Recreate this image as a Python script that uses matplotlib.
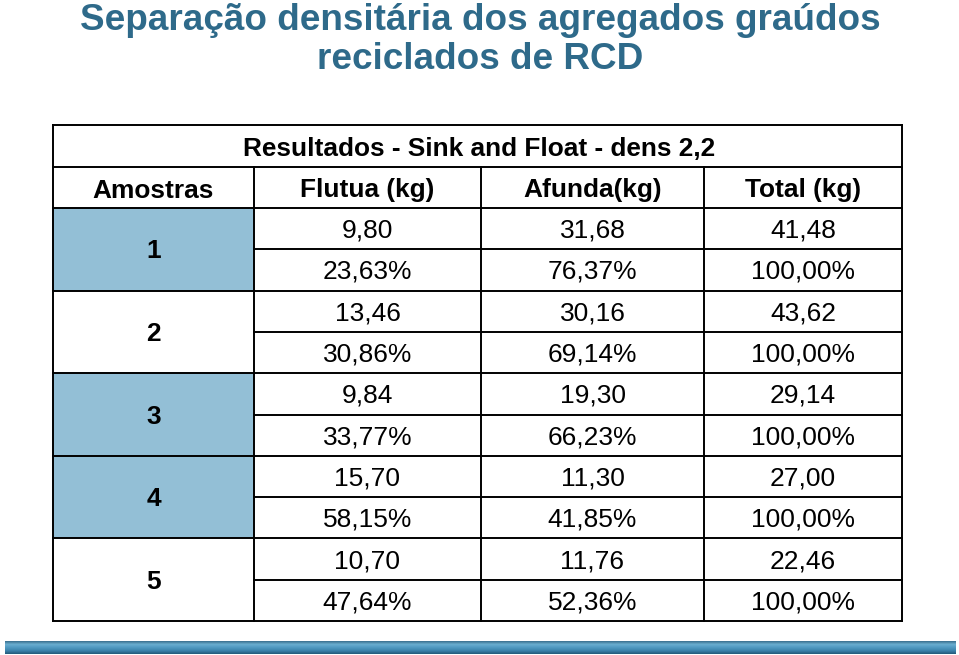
import matplotlib
matplotlib.use("Agg")
import matplotlib.pyplot as plt
import numpy as np
from matplotlib.colors import LinearSegmentedColormap
from matplotlib.patches import Rectangle

plt.rcParams['font.family'] = ['Liberation Sans', 'DejaVu Sans']

# table data
amostras = ['1', '2', '3', '4', '5']
flutua = [9.80, 13.46, 9.84, 15.70, 10.70]
afunda = [31.68, 30.16, 19.30, 11.30, 11.76]
total = [41.48, 43.62, 29.14, 27.00, 22.46]
flutua_pct = [23.63, 30.86, 33.77, 58.15, 47.64]
afunda_pct = [76.37, 69.14, 66.23, 41.85, 52.36]
total_pct = [100.00, 100.00, 100.00, 100.00, 100.00]
destaque = [True, False, True, True, False]

headers = ['Amostras', 'Flutua (kg)', 'Afunda(kg)', 'Total (kg)']
titulo_tabela = 'Resultados - Sink and Float - dens 2,2'
titulo = ['Separação densitária dos agregados graúdos', 'reciclados de RCD']

title_color = '#2e6a8a'
fill_blue = '#93bfd6'


def br(v, pct=False):
    s = '{:.2f}'.format(v).replace('.', ',')
    return s + '%' if pct else s


W, H = 959, 655
fig = plt.figure(figsize=(W / 100, H / 100), dpi=100)
ax = fig.add_axes([0, 0, 1, 1])
ax.set_xlim(0, W)
ax.set_ylim(H, 0)
ax.axis('off')

# slide title, two lines
for k, linha in enumerate(titulo):
    ax.text(480, 30 + 39 * k, linha, ha='center', va='baseline',
            fontsize=26.6, fontweight='bold', color=title_color)

# grid geometry (pixels)
cols = [53, 254, 481, 704, 902]
top, r_title, r_head = 125, 167, 208
bottom = 621
half = (bottom - r_head) / 10

lw = 1.4
# blue fill of sample cells
for i, hl in enumerate(destaque):
    if hl:
        y0 = r_head + 2 * i * half
        ax.add_patch(Rectangle((cols[0], y0), cols[1] - cols[0], 2 * half,
                               facecolor=fill_blue, edgecolor='none'))

# horizontal lines
ax.plot([cols[0], cols[-1]], [top, top], color='black', lw=lw)
ax.plot([cols[0], cols[-1]], [r_title, r_title], color='black', lw=lw)
ax.plot([cols[0], cols[-1]], [r_head, r_head], color='black', lw=lw)
for k in range(1, 11):
    y = r_head + k * half
    x0 = cols[0] if k % 2 == 0 else cols[1]
    ax.plot([x0, cols[-1]], [y, y], color='black', lw=lw)
# vertical lines
ax.plot([cols[0], cols[0]], [top, bottom], color='black', lw=lw)
ax.plot([cols[-1], cols[-1]], [top, bottom], color='black', lw=lw)
for x in cols[1:-1]:
    ax.plot([x, x], [r_title, bottom], color='black', lw=lw)

# table texts
ax.text((cols[1] + cols[3]) / 2, (top + r_title) / 2 + 3, titulo_tabela,
        ha='center', va='center', fontsize=18.9, fontweight='bold')
for j, h in enumerate(headers):
    ax.text((cols[j] + cols[j + 1]) / 2, (r_title + r_head) / 2 + 3, h,
            ha='center', va='center', fontsize=18.9, fontweight='bold')

for i in range(len(amostras)):
    y0 = r_head + 2 * i * half
    ax.text((cols[0] + cols[1]) / 2, y0 + half + 2, amostras[i],
            ha='center', va='center', fontsize=18.9, fontweight='bold')
    vals = [br(flutua[i]), br(afunda[i]), br(total[i])]
    pcts = [br(flutua_pct[i], True), br(afunda_pct[i], True),
            br(total_pct[i], True)]
    for j in range(3):
        xc = (cols[j + 1] + cols[j + 2]) / 2
        ax.text(xc, y0 + half / 2 + 2, vals[j], ha='center', va='center',
                fontsize=19)
        ax.text(xc, y0 + 1.5 * half + 2, pcts[j], ha='center', va='center',
                fontsize=19)

# gradient bar at the bottom
cmap = LinearSegmentedColormap.from_list(
    'bar', ['#3a6f8e', '#6aaed0', '#4f98c0', '#3b82ab', '#245a7a'])
grad = np.linspace(0, 1, 50).reshape(-1, 1)
ax.imshow(grad, cmap=cmap, aspect='auto', extent=[5, 956, 654, 641],
          interpolation='bilinear')
ax.set_xlim(0, W)
ax.set_ylim(H, 0)

fig.savefig('out.png', dpi=100)
